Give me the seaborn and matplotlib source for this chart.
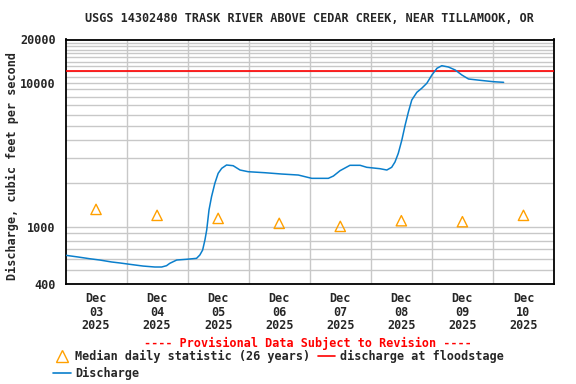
import matplotlib
matplotlib.use("Agg")
import matplotlib.pyplot as plt
import matplotlib.dates as mdates
from matplotlib.lines import Line2D
from matplotlib.ticker import FixedLocator, NullFormatter
import seaborn as sns
import pandas as pd
import numpy as np

# ---- data ----
start = "2025-12-03 00:00"
hours = [0.1, 5, 9.6, 13.5, 18.1, 21.4, 25.3, 30.5, 35.1, 37.8, 39.7, 41, 43.7, 47.6,
         51.5, 52.8, 53.9, 54.8, 55.5, 56.4, 57.4, 58.7, 60, 61.4, 63.3, 65.9, 68.6,
         71.8, 78.4, 85, 91.5, 96.8, 103.3, 105.3, 107.9, 111.8, 115.8, 118.4, 123.6,
         126.3, 128.2, 129.5, 130.8, 132.2, 133.5, 134.8, 136.1, 138.1, 140, 142, 144,
         146, 147.9, 150.5, 153.2, 155.8, 158.4, 163, 168.2, 172.2]
discharge = [633, 616, 599, 587, 569, 560, 548, 533, 525, 525, 536, 557, 587, 594,
             603, 636, 689, 809, 949, 1307, 1617, 2003, 2350, 2546, 2685, 2655, 2478,
             2412, 2373, 2324, 2287, 2169, 2169, 2251, 2451, 2672, 2672, 2588, 2531,
             2478, 2588, 2817, 3237, 4005, 5092, 6300, 7597, 8594, 9162, 9922, 11330,
             12620, 13150, 12880, 12270, 11330, 10630, 10410, 10180, 10080]
median_days = ["2025-12-03", "2025-12-04", "2025-12-05", "2025-12-06",
               "2025-12-07", "2025-12-08", "2025-12-09", "2025-12-10"]
median_cfs = [1320, 1200, 1143, 1056, 1006, 1101, 1084, 1200]
floodstage = 12000
ytick_vals = [400, 1000, 10000, 20000]
ytick_labels = ["400", "1000", "10000", "20000"]
title = "USGS 14302480 TRASK RIVER ABOVE CEDAR CREEK, NEAR TILLAMOOK, OR"

# ---- frames ----
t0 = pd.Timestamp(start)
df = pd.DataFrame({"time": t0 + pd.to_timedelta(hours, unit="h"), "cfs": discharge})
dm = pd.DataFrame({"time": pd.to_datetime(median_days) + pd.Timedelta(hours=12),
                   "cfs": median_cfs})

sns.set_style("white")
plt.rcParams["font.family"] = ["DejaVu Sans Mono"]
plt.rcParams["font.weight"] = "bold"
FS = 8.5

fig = plt.figure(figsize=(5.76, 3.84), dpi=100)
ax = fig.add_axes([65.5/576, 1-284/384, (554-65.5)/576, (284-39.5)/384])

blue = "#0a7fcc"
orange = "#ffa000"

sns.lineplot(data=df, x="time", y="cfs", ax=ax, color=blue, lw=1.1, zorder=4)
sns.scatterplot(data=dm, x="time", y="cfs", ax=ax, marker="^", s=55,
                facecolor="none", edgecolor=orange, linewidth=1.0, zorder=5)
ax.axhline(floodstage, color="#ff0000", lw=1.2, zorder=3)

ax.set_yscale("log")
ax.set_ylim(400, 20000)
xmin = t0
xmax = t0 + pd.Timedelta(days=8)
ax.set_xlim(xmin, xmax)

# y ticks & grid
minor_y = list(range(500, 1000, 100)) + list(range(2000, 10000, 1000)) + \
    list(range(11000, 20000, 1000))
ax.yaxis.set_major_locator(FixedLocator(ytick_vals))
ax.set_yticklabels(ytick_labels)
ax.yaxis.set_minor_locator(FixedLocator(minor_y))
ax.yaxis.set_minor_formatter(NullFormatter())

# x ticks at noon, grid at midnight
noon = [t0 + pd.Timedelta(days=d, hours=12) for d in range(8)]
midn = [t0 + pd.Timedelta(days=d) for d in range(1, 8)]
ax.set_xticks(noon)
ax.set_xticklabels([t.strftime("%b\n%d\n%Y") for t in noon], linespacing=1.05)
ax.xaxis.set_minor_locator(FixedLocator(mdates.date2num(midn)))

ax.grid(False)
ax.grid(which="minor", axis="both", color="#c8c8c8", lw=1.0, zorder=0)
ax.grid(which="major", axis="y", color="#c8c8c8", lw=1.0, zorder=0)
ax.set_axisbelow(True)

ax.tick_params(axis="both", which="both", length=0, labelsize=FS)
ax.tick_params(axis="x", pad=6)
ax.tick_params(axis="y", pad=7)
for lab in ax.get_xticklabels() + ax.get_yticklabels():
    lab.set_fontweight("bold")
for sp in ax.spines.values():
    sp.set_color("black")
    sp.set_linewidth(1.3)
ax.set_xlabel("")
ax.set_ylabel("")

fig.text(309/576, 1-19/384, title, ha="center", va="center", fontsize=FS,
         fontweight="bold")
fig.text(12/576, 1-166.5/384, "Discharge, cubic feet per second", rotation=90,
         ha="center", va="center", fontsize=FS, fontweight="bold")
fig.text(308/576, 1-343/384, "---- Provisional Data Subject to Revision ----",
         ha="center", va="center", fontsize=FS, fontweight="bold", color="#ff0000")

handles = [
    Line2D([], [], marker="^", ls="none", markerfacecolor="none",
           markeredgecolor=orange, markersize=8, markeredgewidth=1.0),
    Line2D([], [], color=blue, lw=1.2),
    Line2D([], [], color="#ff0000", lw=1.2),
]
labels = ["Median daily statistic (26 years)", "Discharge", "discharge at floodstage"]
leg = fig.legend(handles, labels, loc="upper left", bbox_to_anchor=(53/576, 1-350/384),
                 ncol=2, frameon=False, fontsize=FS, handlelength=1.5,
                 handletextpad=0.4, columnspacing=0.6, labelspacing=0.3,
                 borderpad=0, borderaxespad=0)
for t in leg.get_texts():
    t.set_fontweight("bold")

fig.savefig("out.png", dpi=100)
